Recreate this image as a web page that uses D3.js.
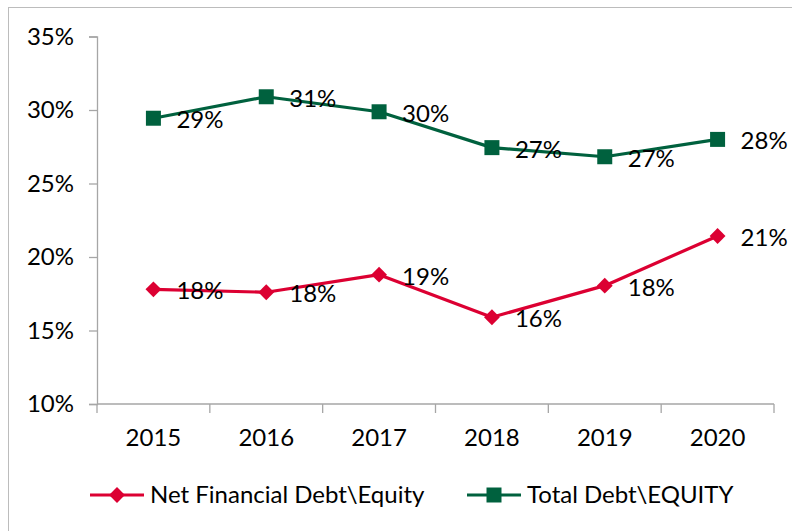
<!DOCTYPE html>
<html>
<head>
<meta charset="utf-8">
<script src="https://cdn.jsdelivr.net/npm/d3@7"></script>
<style>
  body { margin: 0; background: #fff; }
  svg text { font-family: Lato, "Open Sans", sans-serif; fill: #000; }
</style>
</head>
<body>
<script>
const years = ["2015", "2016", "2017", "2018", "2019", "2020"];
const netDebtEquity = [0.178, 0.176, 0.188, 0.159, 0.1805, 0.2143];
const totalDebtEquity = [0.2944, 0.309, 0.2988, 0.2744, 0.2682, 0.280];
const yTicks = [0.10, 0.15, 0.20, 0.25, 0.30, 0.35];
const seriesNames = ["Net Financial Debt\\Equity", "Total Debt\\EQUITY"];

const width = 792, height = 531;
const red = "#dc0032", green = "#00613e";
const fs = "24px";

const svg = d3.select("body").append("svg")
    .attr("width", width)
    .attr("height", height);

// chart frame
svg.append("rect")
    .attr("x", 8.5).attr("y", 7.5)
    .attr("width", 800).attr("height", 600)
    .attr("fill", "none")
    .attr("stroke", "#bcbcbc");

const x = d3.scaleBand().domain(years).range([97, 774]);
const y = d3.scaleLinear().domain([0.10, 0.35]).range([404, 36.5]);
const fmt = d3.format(".0%");

// y axis
const yAxis = svg.append("g")
    .attr("transform", "translate(97,0)")
    .call(d3.axisLeft(y).tickValues(yTicks).tickFormat(fmt).tickSize(8).tickPadding(15));
yAxis.select(".domain").attr("stroke", "#a6a6a6").attr("stroke-width", 1.3);
yAxis.selectAll(".tick line").attr("stroke", "#a6a6a6").attr("stroke-width", 1.3);
yAxis.selectAll("text").style("font-size", fs).attr("fill", "#000");

// x axis with ticks at band boundaries
const xAxis = svg.append("g").attr("transform", "translate(0,404)");
xAxis.append("line")
    .attr("x1", 97).attr("x2", 774)
    .attr("stroke", "#a6a6a6").attr("stroke-width", 1.3);
const bounds = years.map(d => x(d)).concat([x.range()[1]]);
xAxis.selectAll(".xt").data(bounds).enter().append("line")
    .attr("x1", d => d).attr("x2", d => d)
    .attr("y1", 0).attr("y2", 9)
    .attr("stroke", "#a6a6a6").attr("stroke-width", 1.3);
xAxis.selectAll(".xl").data(years).enter().append("text")
    .attr("x", d => x(d) + x.bandwidth() / 2)
    .attr("y", 34)
    .attr("dy", "0.35em")
    .attr("text-anchor", "middle")
    .style("font-size", fs)
    .text(d => d);

const cx = d => x(d) + x.bandwidth() / 2;
const line = d3.line().x((d, i) => cx(years[i])).y(d => y(d));

const diamond = d3.symbol().type(d3.symbolDiamond2).size(160);
const square = d3.symbol().type(d3.symbolSquare).size(225);

function drawSeries(values, color, sym) {
  const g = svg.append("g");
  g.append("path")
      .datum(values)
      .attr("d", line)
      .attr("fill", "none")
      .attr("stroke", color)
      .attr("stroke-width", 3.2)
      .attr("stroke-linejoin", "round");
  g.selectAll(".m").data(values).enter().append("path")
      .attr("transform", (d, i) => `translate(${cx(years[i])},${y(d)})`)
      .attr("d", sym())
      .attr("fill", color);
  g.selectAll(".lbl").data(values).enter().append("text")
      .attr("x", (d, i) => cx(years[i]) + 23)
      .attr("y", d => y(d) + 1.5)
      .attr("dy", "0.35em")
      .style("font-size", fs)
      .text(d => fmt(d));
}

drawSeries(totalDebtEquity, green, square);
drawSeries(netDebtEquity, red, diamond);

// legend
const legend = [
  { name: seriesNames[0], color: red, sym: diamond, x: 90 },
  { name: seriesNames[1], color: green, sym: square, x: 467 }
];
const lg = svg.selectAll(".leg").data(legend).enter().append("g")
    .attr("transform", d => `translate(${d.x},495)`);
lg.append("line")
    .attr("x1", 0).attr("x2", 54)
    .attr("stroke", d => d.color).attr("stroke-width", 3.2);
lg.append("path")
    .attr("transform", "translate(27,0)")
    .attr("d", d => d.sym())
    .attr("fill", d => d.color);
lg.append("text")
    .attr("x", 60)
    .attr("dy", "0.35em")
    .style("font-size", fs)
    .text(d => d.name);
</script>
</body>
</html>
